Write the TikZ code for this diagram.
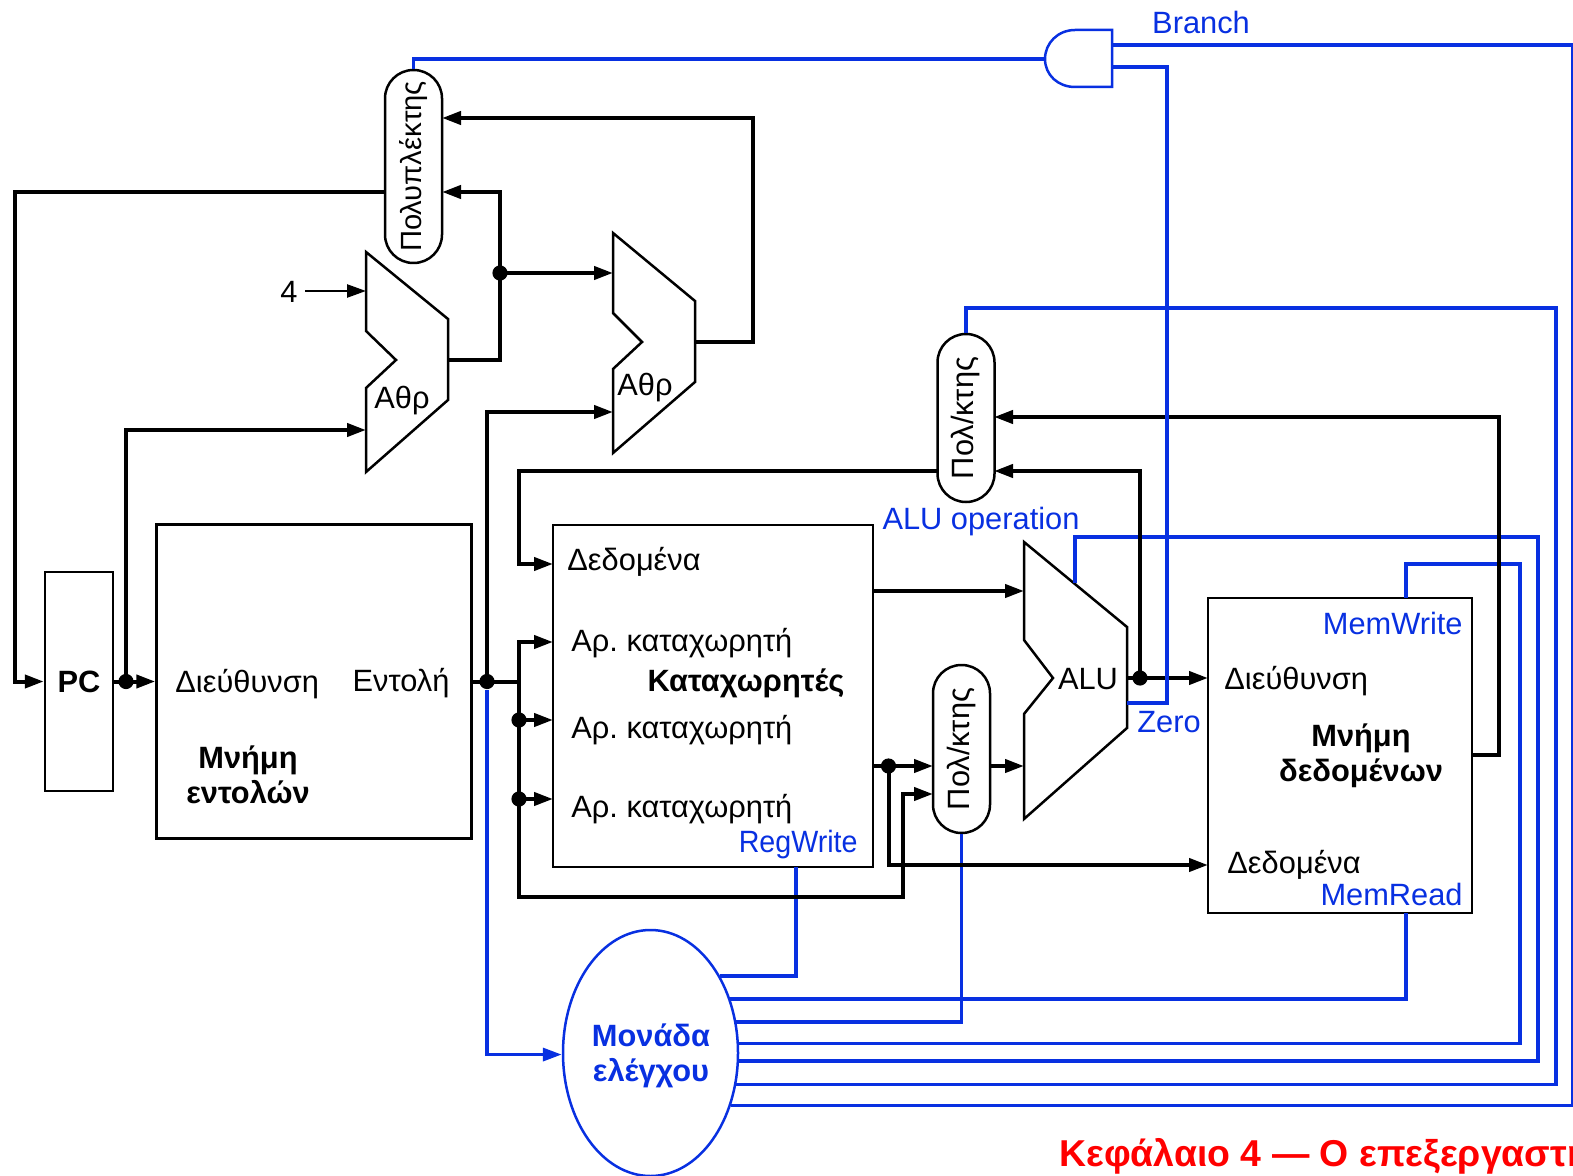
\documentclass[tikz,border=0pt]{standalone}
\usepackage{fontspec}
\setmainfont{Liberation Sans}
\newfontfamily\condfont[FakeStretch=0.93]{Liberation Sans}
\usetikzlibrary{arrows.meta,shapes.geometric}
\definecolor{ctlblue}{RGB}{8,48,225}
\frenchspacing

\begin{document}
\begin{tikzpicture}[x=0.5pt,y=-0.5pt,
    txt/.style={font=\fontsize{15.4}{17.5}\selectfont,inner sep=0pt,align=center},
    btxt/.style={font=\fontsize{15.4}{17.5}\selectfont\bfseries,inner sep=0pt,align=center},
    ctltxt/.style={txt,text=ctlblue},
    box/.style={draw,line width=1.25pt},
    muxbox/.style={draw,line width=1.25pt,rotate=90,inner sep=0pt,minimum height=28.5pt,rounded corners=14.2pt,font=\fontsize{15.4}{17.5}\selectfont},
    dot/.style={circle,fill,inner sep=0pt,minimum size=7.6pt},
    wire/.style={line width=2pt},
    arrow/.style={wire,-{Triangle[length=9.5pt,width=6.5pt]}},
    ctl/.style={line width=1.75pt,draw=ctlblue},
    ctlarrow/.style={ctl,-{Triangle[length=9.5pt,width=6.5pt]}}]
    \clip (0,0) rectangle (1573,1176);
    \useasboundingbox (0,0) rectangle (1573,1176);

    % blocks
    \node[box,minimum width=34pt,minimum height=109.5pt,btxt] (pc) at (79,681.5) {PC};
    \node[box,minimum width=157.5pt,minimum height=157pt] (imem) at (314,681.5) {};
    \node[box,minimum width=160pt,minimum height=171pt] (regs) at (713,696) {};
    \node[box,minimum width=132pt,minimum height=157.5pt] (dmem) at (1340,755.5) {};
    \node[muxbox,minimum width=96.5pt,font=\fontsize{14.6}{17.5}\selectfont] (bmux) at (413.5,166.5) {Πολυπλέκτης};
    \node[muxbox,minimum width=84pt] (umux) at (966,418) {Πολ/κτης};
    \node[muxbox,minimum width=84pt] (lmux) at (961.5,749) {Πολ/κτης};
    \node[draw=ctlblue,line width=1.25pt,ellipse,minimum width=87.5pt,minimum height=123pt,inner sep=0pt] (ctrl) at (650.5,1053) {};

    % adders and ALU
    \draw[box] (366,252) -- (448,319) -- (448,400) -- (366,472) -- (366,388) -- (396,360) -- (366,331) -- cycle;
    \draw[box] (613,233) -- (695,301) -- (695,382) -- (613,453) -- (613,369) -- (642,342) -- (613,313) -- cycle;
    \draw[box] (1024,542) -- (1127,627) -- (1127,728) -- (1024,819) -- (1024,714) -- (1053,678) -- (1024,640) -- cycle;
    \draw[ctl,line width=1.25pt] (1112,30) -- (1075,30) .. controls (1058,30) and (1045,43) .. (1045,59) .. controls (1045,75) and (1058,87) .. (1075,87) -- (1112,87) -- cycle;

    % ports
    \coordinate (bmuxout) at (385,192);
    \coordinate (bmuxa) at (442,118);
    \coordinate (bmuxb) at (442,192);
    \coordinate (fourout) at (305,291);
    \coordinate (addAa) at (366,291);
    \coordinate (addAb) at (366,430);
    \coordinate (addAout) at (448,360);
    \coordinate (addBa) at (613,273);
    \coordinate (addBb) at (613,412);
    \coordinate (addBout) at (695,342);
    \coordinate (regdata) at (553,564);
    \coordinate (rega) at (553,642);
    \coordinate (regb) at (553,720);
    \coordinate (regc) at (553,799);
    \coordinate (regouta) at (873,591);
    \coordinate (regoutb) at (873,766);
    \coordinate (regwrite) at (796,867);
    \coordinate (umuxa) at (994,417);
    \coordinate (umuxb) at (994,471);
    \coordinate (umuxout) at (938,471);
    \coordinate (lmuxa) at (933,766);
    \coordinate (lmuxb) at (933,794);
    \coordinate (lmuxout) at (990,766);
    \coordinate (alua) at (1024,591);
    \coordinate (alub) at (1024,766);
    \coordinate (aluout) at (1127,678);
    \coordinate (aluop) at (1075,583);
    \coordinate (aluzero) at (1127,703);
    \coordinate (memaddr) at (1208,678);
    \coordinate (memdata) at (1208,865);
    \coordinate (memout) at (1472,755);
    \coordinate (memwrite) at (1406,598);
    \coordinate (memread) at (1406,913);
    \coordinate (andin) at (1045,59);
    \coordinate (andouta) at (1112,45);
    \coordinate (andoutb) at (1112,67);

    % junctions
    \node[dot] (pcdot) at (126,681.5) {};
    \node[dot] (idot) at (487,681.5) {};
    \node[dot] (addAdot) at (500,273) {};
    \node[dot] (rdota) at (519,720) {};
    \node[dot] (rdotb) at (519,799) {};
    \node[dot] (regdot) at (888.5,766) {};
    \node[dot] (aludot) at (1140,678) {};

    % control lines
    \draw[ctl] (andin) -| (bmux.east);
    \draw[ctl] (andouta) -- (1573,45) |- (ctrl.-33.3);
    \draw[ctl] (umux.east) |- (1556,308) |- (ctrl.-20.7);
    \draw[ctl] (aluop) |- (1538,537) |- (ctrl.-5.9);
    \draw[ctl] (memwrite) |- (1520,564) |- (ctrl.6.5);
    \draw[ctl] (memread) |- (ctrl.34.5);
    \draw[ctl] (lmux.west) |- (ctrl.20.1);
    \draw[ctl] (regwrite) |- (ctrl.48.5);
    \draw[ctlarrow] (idot.south) |- (ctrl.-179);

    % data lines
    \draw[arrow] (bmuxout) -- (15,192) |- (pc.west);
    \draw[arrow] (pc.east) -- (imem.west);
    \draw[arrow] (pcdot.center) |- (addAb);
    \draw[arrow,line width=1.2pt] (fourout) -- (addAa);
    \draw[arrow] (addAout) -| (addAdot.center) |- (bmuxb);
    \draw[arrow] (addAdot.center) -- (addBa);
    \draw[arrow] (addBout) -| (753,118) -- (bmuxa);
    \draw[wire] (imem.east) -- (idot.center) -- (519,681.5);
    \draw[arrow] (idot.center) |- (addBb);
    \draw[arrow] (519,681.5) |- (rega);
    \draw[arrow] (rdota.center) -- (regb);
    \draw[arrow] (rdotb.center) -- (regc);
    \draw[arrow] (519,681.5) |- (903,897) |- (lmuxb);
    \draw[arrow] (umuxout) -| (519,564) -- (regdata);
    \draw[arrow] (regouta) -- (alua);
    \draw[arrow] (regoutb) -- (lmuxa);
    \draw[arrow] (regdot.center) |- (memdata);
    \draw[arrow] (lmuxout) -- (alub);
    \draw[arrow] (aluout) -- (memaddr);
    \draw[arrow] (aludot.center) |- (umuxb);
    \draw[arrow] (memout) -| (1499,417) -- (umuxa);
    \draw[ctl] (andoutb) -| (1167,703) -- (aluzero);

    % labels
    \node[txt] (four) at (289,292) {4};
    \node[txt] (addAlabel) at (402,401) {Αθρ};
    \node[txt] (addBlabel) at (645,388) {Αθρ};
    \node[txt,anchor=west] (iaddr) at (175,684) {Διεύθυνση};
    \node[txt] (instr) at (401,683) {Εντολή};
    \node[btxt] (imemlabel) at (248,775) {Μνήμη\\εντολών};
    \node[txt,anchor=west] (rdata) at (567,562) {Δεδομένα};
    \node[txt,anchor=west] (rnuma) at (571,643) {Αρ. καταχωρητή};
    \node[btxt] (regslabel) at (746,683) {Καταχωρητές};
    \node[txt,anchor=west] (rnumb) at (571,730) {Αρ. καταχωρητή};
    \node[txt,anchor=west] (rnumc) at (571,809) {Αρ. καταχωρητή};
    \node[ctltxt,anchor=east,font=\fontsize{15.4}{17.5}\condfont] (rwlabel) at (858,845) {RegWrite};
    \node[ctltxt] (oplabel) at (981,522) {ALU operation};
    \node[txt] (alulabel) at (1088,679) {ALU};
    \node[ctltxt] (zerolabel) at (1169,722) {Zero};
    \node[ctltxt,anchor=east] (mwlabel) at (1463,623) {MemWrite};
    \node[txt,anchor=west] (maddr) at (1224,681) {Διεύθυνση};
    \node[btxt] (dmemlabel) at (1361,755.5) {Μνήμη\\δεδομένων};
    \node[txt,anchor=west] (mdata) at (1227,865) {Δεδομένα};
    \node[ctltxt,anchor=east] (mrlabel) at (1463,894) {MemRead};
    \node[ctltxt] (branch) at (1201,22) {Branch};
    \node[btxt,text=ctlblue] (ctrllabel) at (651,1055.5) {Μονάδα\\ελέγχου};
    \node[anchor=west,inner sep=0pt,text=red,font=\fontsize{18.7}{20}\selectfont\bfseries] (chapter) at (1059,1156) {Κεφάλαιο 4 — Ο επεξεργαστής};
\end{tikzpicture}
\end{document}
